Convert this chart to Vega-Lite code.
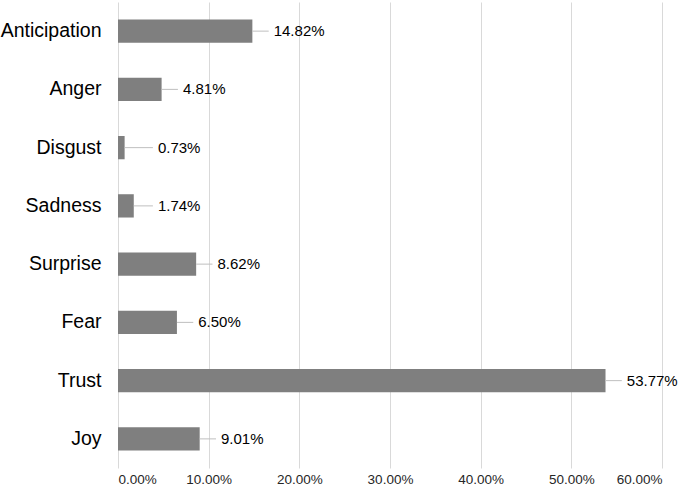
{
  "$schema": "https://vega.github.io/schema/vega-lite/v6.json",
  "autosize": "none",
  "width": 544,
  "height": 466,
  "padding": {"left": 118, "top": 2, "right": 21, "bottom": 22},
  "background": "white",
  "config": {"view": {"stroke": null}, "font": "Liberation Sans"},
  "data": {"values": [
    {"emotion": "Anticipation", "value": 0.1482},
    {"emotion": "Anger", "value": 0.0481},
    {"emotion": "Disgust", "value": 0.0073},
    {"emotion": "Sadness", "value": 0.0174},
    {"emotion": "Surprise", "value": 0.0862},
    {"emotion": "Fear", "value": 0.065},
    {"emotion": "Trust", "value": 0.5377},
    {"emotion": "Joy", "value": 0.0901}
  ]},
  "transform": [{"calculate": "max(datum.value + 0.018, 0.0385)", "as": "labelX"}],
  "encoding": {
    "y": {
      "field": "emotion", "type": "nominal", "sort": null,
      "scale": {"paddingInner": 0.6, "paddingOuter": 0.3},
      "axis": {"title": null, "domain": false, "ticks": false, "labelFontSize": 19.5, "labelColor": "#000000", "labelPadding": 17, "grid": false}
    }
  },
  "layer": [
    {
      "mark": {"type": "bar", "color": "#7f7f7f"},
      "encoding": {
        "x": {
          "field": "value", "type": "quantitative",
          "scale": {"domain": [0, 0.6], "nice": false},
          "axis": {"title": null, "format": ".2%", "values": [0, 0.1, 0.2, 0.3, 0.4, 0.5, 0.6], "domain": false, "ticks": false, "grid": true, "gridColor": "#d9d9d9", "gridWidth": 1, "labelFontSize": 13.5, "labelColor": "#262626", "labelPadding": 4}
        }
      }
    },
    {
      "mark": {"type": "rule", "color": "#bfbfbf", "strokeWidth": 1},
      "encoding": {
        "x": {"field": "value", "type": "quantitative"},
        "x2": {"field": "labelX"}
      }
    },
    {
      "mark": {"type": "text", "align": "left", "dx": 5, "fontSize": 15, "color": "#000000"},
      "encoding": {
        "x": {"field": "labelX", "type": "quantitative"},
        "text": {"field": "value", "type": "quantitative", "format": ".2%"}
      }
    }
  ]
}
